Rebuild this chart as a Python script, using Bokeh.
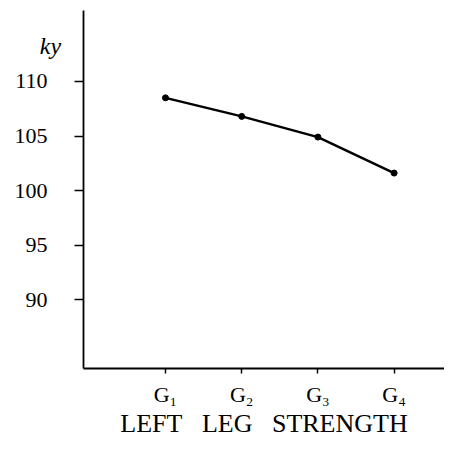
from bokeh.plotting import figure
from bokeh.models import Range1d, FixedTicker
from bokeh.core.properties import value
from bokeh.embed import file_html
from bokeh.resources import INLINE

groups = ["G\u2081", "G\u2082", "G\u2083", "G\u2084"]
group_pos = [1, 2, 3, 4]
strength = [108.5, 106.8, 104.9, 101.6]
y_ticks = [90, 95, 100, 105, 110]
unit_text = "ky"

FONT = "Liberation Serif"

# axis extents in data units
X0, X1 = -0.076, 4.661
Y0, Y1 = 83.7, 116.5

p = figure(width=444, height=456, output_backend="svg", toolbar_location=None,
           x_range=Range1d(-1.165, 4.661), y_range=Range1d(75.6, 117.43),
           min_border=0)
p.outline_line_color = None
p.xgrid.visible = False
p.ygrid.visible = False
p.background_fill_color = "white"

p.line(group_pos, strength, line_color="black", line_width=2.5)
p.scatter(group_pos, strength, size=6, color="black")

xa = p.xaxis[0]
xa.fixed_location = Y0
xa.bounds = (X0, X1)
xa.ticker = FixedTicker(ticks=group_pos)
xa.major_label_overrides = {pos: g for pos, g in zip(group_pos, groups)}
xa.minor_tick_line_color = None
xa.major_tick_in = 0
xa.major_tick_out = 5
xa.axis_line_width = 1.8
xa.major_tick_line_width = 1.5
xa.major_label_text_font = FONT
xa.major_label_text_font_size = "22px"
xa.major_label_text_color = "black"
xa.major_label_standoff = 9
xa.axis_label = "LEFT\u00a0\u00a0\u00a0LEG\u00a0\u00a0\u00a0STRENGTH"
xa.axis_label_text_font = FONT
xa.axis_label_text_font_size = "26px"
xa.axis_label_text_font_style = "normal"
xa.axis_label_text_color = "black"
xa.axis_label_standoff = -2

ya = p.yaxis[0]
ya.fixed_location = X0
ya.bounds = (Y0, Y1)
ya.ticker = FixedTicker(ticks=y_ticks)
ya.minor_tick_line_color = None
ya.major_tick_in = 0
ya.major_tick_out = 9
ya.axis_line_width = 1.8
ya.major_tick_line_width = 1.5
ya.major_label_text_font = FONT
ya.major_label_text_font_size = "22px"
ya.major_label_text_color = "black"
ya.major_label_standoff = 27

p.text(x=[-0.51], y=[113.3], text=[unit_text], text_font=value(FONT),
       text_font_style="italic", text_font_size="24px", text_align="center",
       text_baseline="middle", text_color="black")

open("out.html", "w").write(file_html(p, INLINE))
